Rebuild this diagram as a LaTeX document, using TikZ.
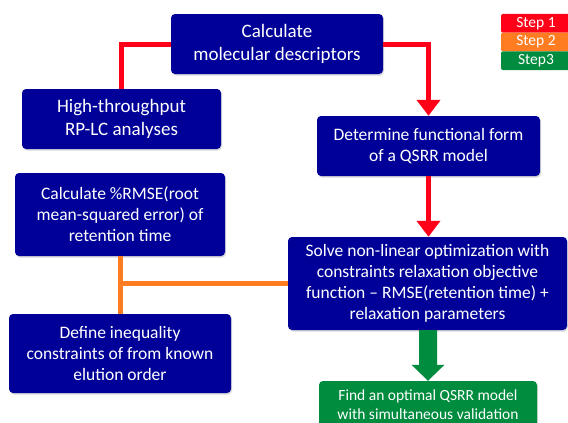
\documentclass[tikz,border=0pt]{standalone}
\usepackage{fontspec}
\setmainfont{Carlito}
\usetikzlibrary{arrows.meta,shadows,calc}
\definecolor{boxblue}{RGB}{0,0,153}
\definecolor{stepred}{RGB}{255,0,24}
\definecolor{steporange}{RGB}{255,125,32}
\definecolor{stepgreen}{RGB}{0,140,62}
\begin{document}
\begin{tikzpicture}[x=1pt,y=-1pt,
  box/.style={fill=boxblue, text=white, rounded corners=4pt, align=center, inner sep=0pt,
    drop shadow={opacity=0.3,shadow xshift=1pt,shadow yshift=-1.5pt}},
  gbox/.style={box, fill=stepgreen},
  legendbox/.style={text=white, rounded corners=2pt, inner sep=0pt, minimum width=70pt,
    minimum height=18.7pt, font=\fontsize{15.5}{17}\selectfont},
  redline/.style={draw=stepred, line width=5pt},
  redarrow/.style={redline, -{Triangle[width=23pt,length=16pt]}},
  orangeline/.style={draw=steporange, line width=5pt},
  fbig/.style={font=\fontsize{19}{23}\selectfont},
  fmid/.style={font=\fontsize{17.5}{21}\selectfont},
  fsmall/.style={font=\fontsize{15.5}{19}\selectfont}]
\useasboundingbox (0,0) rectangle (568,423);
\clip (0,0) rectangle (568,423);
% boxes
\node[box, fbig, minimum width=212pt, minimum height=60pt] (calc) at (277,44) {Calculate\\molecular descriptors};
\node[box, fbig, minimum width=199pt, minimum height=60pt] (ht) at (121.5,119) {High-throughput\\RP-LC analyses};
\node[box, fmid, minimum width=223pt, minimum height=60pt] (det) at (428.5,146) {Determine functional form\\of a QSRR model};
\node[box, fmid, minimum width=210pt, minimum height=83pt] (rmse) at (120,214.5) {Calculate \%RMSE(root\\mean-squared error) of\\retention time};
\node[box, fmid, minimum width=222pt, minimum height=79pt] (def) at (120,353.5) {Define inequality\\constraints of from known\\elution order};
\node[box, fmid, minimum width=279pt, minimum height=93pt] (solve) at (427.5,283.5) {Solve non-linear optimization with\\constraints relaxation objective\\function -- RMSE(retention time) +\\relaxation parameters};
\node[gbox, fsmall, minimum width=218pt, minimum height=47pt] (green) at (428,404.5) {Find an optimal QSRR model\\with simultaneous validation};
% legend
\node[legendbox, fill=stepred] (s1) at (536,23.3) {Step 1};
\node[legendbox, fill=steporange] (s2) at (536,42) {Step 2};
\node[legendbox, fill=stepgreen] (s3) at (536,60.7) {Step3};
% connectors
\draw[redline] (calc.west) -| (ht.north);
\draw[redarrow] (calc.east) -| (det.north);
\draw[redarrow] (det.south) -- (det.south |- solve.north);
\draw[orangeline] (rmse.south) -- (def.north);
\draw[orangeline] (rmse.south |- solve.west) -- (solve.west);
\fill[stepgreen] let \p1=(solve.south), \p2=(green.north) in
  (\x2-9pt,\y1) -- (\x2+9pt,\y1) -- (\x2+9pt,\y2+16pt) -- (\x2+16.5pt,\y2+16pt)
  -- (\x2,\y2) -- (\x2-16.5pt,\y2+16pt) -- (\x2-9pt,\y2+16pt) -- cycle;
\end{tikzpicture}
\end{document}
